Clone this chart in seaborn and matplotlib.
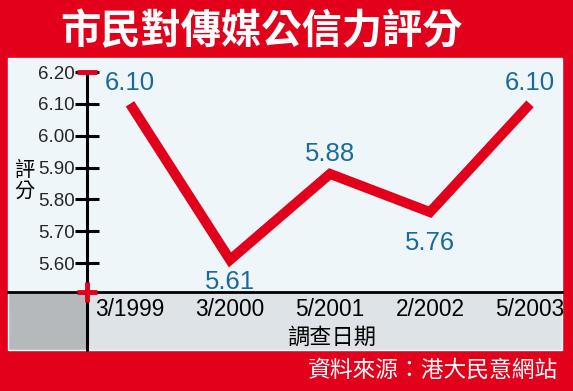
import pandas as pd
import seaborn as sns
import matplotlib.pyplot as plt
from matplotlib.patches import Rectangle
from matplotlib.lines import Line2D

# ---- 数据 ----
dates = ['3/1999', '3/2000', '5/2001', '2/2002', '5/2003']
scores = [6.10, 5.61, 5.88, 5.76, 6.10]
label_offsets = [15, -16, 14, -22, 15]   # 数值标签上下偏移 (pt)
y_ticks = [5.60, 5.70, 5.80, 5.90, 6.00, 6.10, 6.20]

title = '市民對傳媒公信力評分'
y_label = '評\n分'
x_label = '調查日期'
source = '資料來源：港大民意網站'

RED = '#E2001A'
PANEL = '#EEF6F9'
BAND_L = '#B5B9BC'
BAND_R = '#DDE3E6'
BLUE = '#1B6A9C'

sns.set_theme(style='white')
plt.rcParams['font.family'] = ['Liberation Sans', 'Noto Sans CJK TC']
plt.rcParams['axes.unicode_minus'] = False

W, H = 573, 391
fig = plt.figure(figsize=(W / 100, H / 100), dpi=100)
fig.patch.set_facecolor(RED)


def fx(px):
    return px / W


def fy(py):
    return 1 - py / H


# 底部灰色带（放在坐标轴下层）
fig.add_artist(Rectangle((fx(8), fy(350)), fx(87) - fx(8), fy(292) - fy(350),
                         transform=fig.transFigure, facecolor=BAND_L, edgecolor='none', zorder=-2))
fig.add_artist(Rectangle((fx(87), fy(350)), fx(562) - fx(87), fy(292) - fy(350),
                         transform=fig.transFigure, facecolor=BAND_R, edgecolor='none', zorder=-2))
fig.add_artist(Rectangle((fx(8), fy(350)), fx(562) - fx(8), fy(58) - fy(350),
                         transform=fig.transFigure, facecolor='none', edgecolor='white', lw=1, zorder=-1))
fig.add_artist(Line2D([fx(87), fx(87)], [fy(292), fy(350)], transform=fig.transFigure,
                      color='black', lw=2.2, zorder=-1))

ax = fig.add_axes([fx(8), fy(292), fx(562) - fx(8), fy(58) - fy(292)])
ax.set_facecolor(PANEL)

df = pd.DataFrame({'date': dates, 'score': scores})
sns.lineplot(data=df, x='date', y='score', color=RED, linewidth=7.2,
             solid_capstyle='butt', solid_joinstyle='miter', ax=ax, zorder=3)

y_bottom, y_top = 5.509, 6.244
axis_x = -0.43
ax.set_xlim(-1.22, 4.32)
ax.set_ylim(y_bottom, y_top)

for i, (s, off) in enumerate(zip(scores, label_offsets)):
    ax.annotate(f'{s:.2f}', (i, s), xytext=(0, off), textcoords='offset points',
                ha='center', va='center', fontsize=18.5, color=BLUE, zorder=4)

# 坐标轴样式
for side in ['top', 'right']:
    ax.spines[side].set_visible(False)
ax.spines['left'].set_position(('data', axis_x))
ax.spines['left'].set_bounds(y_bottom, 6.20)
ax.spines['left'].set_linewidth(2.2)
ax.spines['left'].set_color('black')
ax.spines['bottom'].set_linewidth(2.0)
ax.spines['bottom'].set_color('black')

ax.set_yticks(y_ticks)
ax.set_yticklabels([f'{t:.2f}' for t in y_ticks])
ax.tick_params(axis='y', direction='inout', length=17, width=2.2, color='black',
               labelsize=13.5, pad=0.5, left=True)
ax.tick_params(axis='x', length=0, labelsize=16.3, pad=4, labelcolor='black')
ax.set_xlabel('')
ax.set_ylabel('')

# 红色端点标记
ax.plot([axis_x], [6.20], marker='_', ms=15, mew=3.5, color=RED, clip_on=False, zorder=5)
ax.plot([axis_x], [y_bottom], marker='+', ms=14, mew=3.5, color=RED, clip_on=False, zorder=5)

# 文字
fig.text(fx(262), fy(32), title, ha='center', va='center', fontsize=29,
         fontweight='bold', color='white', family=['Noto Sans CJK TC'])
fig.text(fx(24), fy(181), y_label, ha='center', va='center', fontsize=14.5,
         color='black', linespacing=1.0, family=['Noto Sans CJK TC'])
fig.text(fx(332), fy(337), x_label, ha='center', va='center', fontsize=16,
         color='black', family=['Noto Sans CJK TC'])
fig.text(fx(558), fy(370), source, ha='right', va='center', fontsize=16.4,
         color='white', family=['Noto Sans CJK TC'])

fig.savefig('out.png', dpi=100, facecolor=RED)
